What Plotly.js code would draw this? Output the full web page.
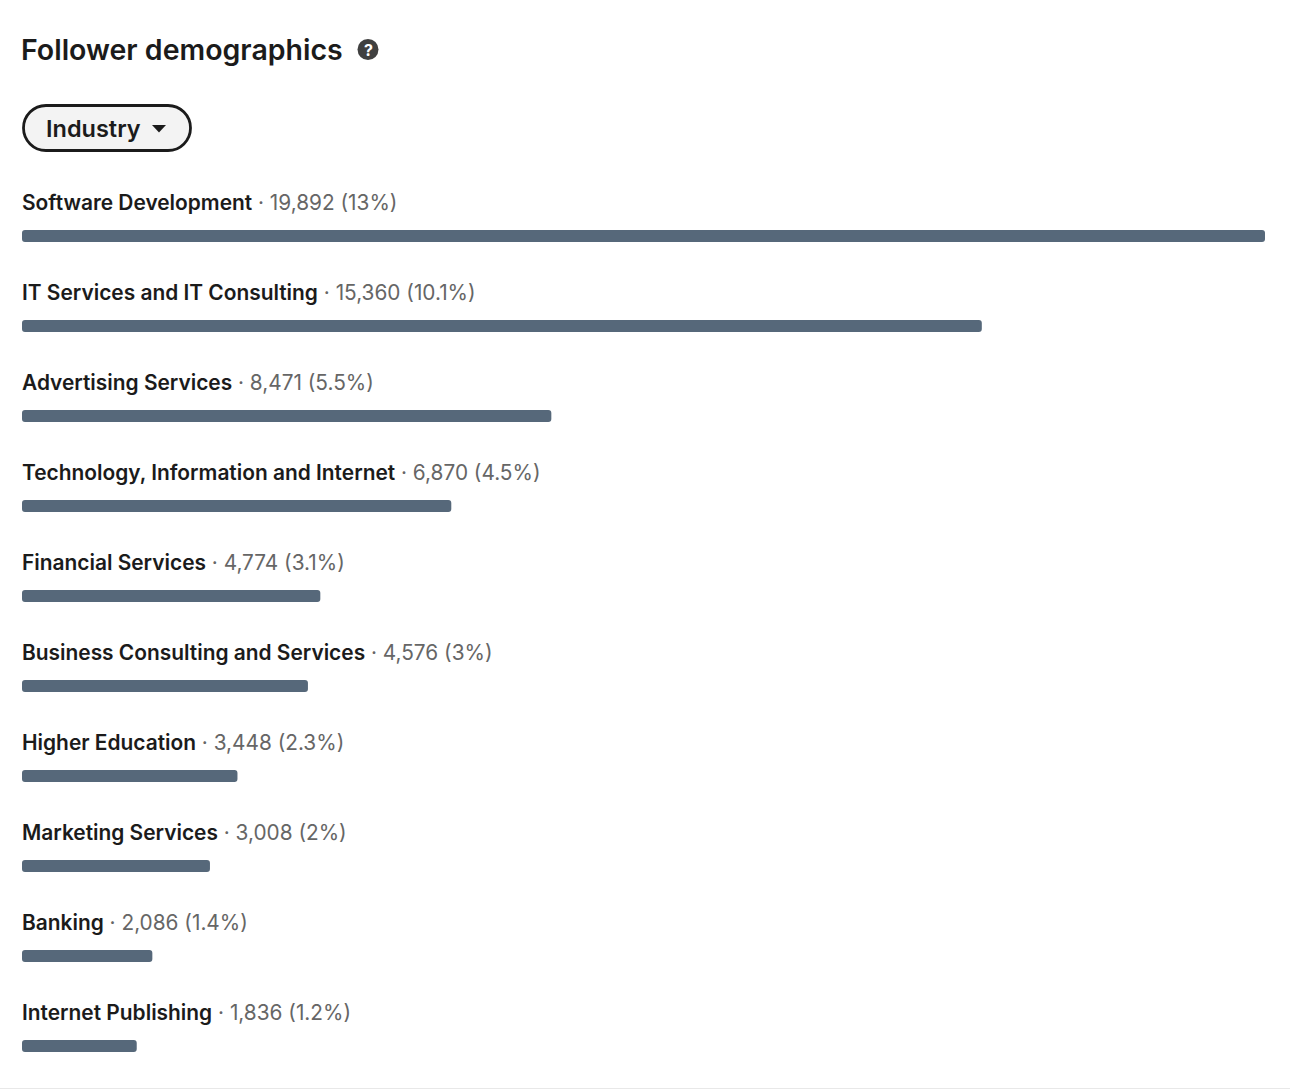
<!DOCTYPE html>
<html>
<head>
<meta charset="utf-8">
<script src="https://cdn.plot.ly/plotly-3.0.1.min.js"></script>
<style>html,body{margin:0;padding:0;background:#fff;overflow:hidden}</style>
</head>
<body>
<div id="chart" style="width:1290px;height:1092px"></div>
<script>
const categories = ["Software Development","IT Services and IT Consulting","Advertising Services","Technology, Information and Internet","Financial Services","Business Consulting and Services","Higher Education","Marketing Services","Banking","Internet Publishing"];
const followers = [19892,15360,8471,6870,4774,4576,3448,3008,2086,1836];
const shares = ["13%","10.1%","5.5%","4.5%","3.1%","3%","2.3%","2%","1.4%","1.2%"];
const chartTitle = "Follower demographics";
const dropdownLabel = "Industry";
const FONT = "Inter, 'Liberation Sans', sans-serif";
const W = 1290, H = 1092, L = 22, R = 25, T = 191, B = 1;
const fx = px => px / W;
const px = x => (x - L) / (W - L - R);
const py = y => 1 - (y - T) / (H - T - B);

function roundedPill(x0, y0, x1, y1) {
  const r = (y1 - y0) / 2, k = r * 0.4477;
  const X = v => px(v), Y = v => py(v);
  return `M ${X(x0 + r)} ${Y(y0)} L ${X(x1 - r)} ${Y(y0)} ` +
    `C ${X(x1 - k)} ${Y(y0)} ${X(x1)} ${Y(y0 + k)} ${X(x1)} ${Y(y0 + r)} ` +
    `C ${X(x1)} ${Y(y1 - k)} ${X(x1 - k)} ${Y(y1)} ${X(x1 - r)} ${Y(y1)} ` +
    `L ${X(x0 + r)} ${Y(y1)} ` +
    `C ${X(x0 + k)} ${Y(y1)} ${X(x0)} ${Y(y1 - k)} ${X(x0)} ${Y(y0 + r)} ` +
    `C ${X(x0)} ${Y(y0 + k)} ${X(x0 + k)} ${Y(y0)} ${X(x0 + r)} ${Y(y0)} Z`;
}

// white masks that round the left end of every bar (barcornerradius only rounds the far end)
function cornerMask(i) {
  const c = T + 45 + 90 * i, t = c - 6, b = c + 6, r = 3;
  const path =
    `M ${px(L)} ${py(t)} L ${px(L + r)} ${py(t)} Q ${px(L)} ${py(t)} ${px(L)} ${py(t + r)} Z ` +
    `M ${px(L)} ${py(b)} L ${px(L + r)} ${py(b)} Q ${px(L)} ${py(b)} ${px(L)} ${py(b - r)} Z`;
  return {type: "path", xref: "paper", yref: "paper", path, fillcolor: "#ffffff", line: {width: 0}};
}

const labels = categories.map((c, i) => ({
  xref: "paper", x: 0, xanchor: "left", xshift: -2,
  yref: "y", y: c, yanchor: "middle", yshift: 33.5,
  showarrow: false, align: "left",
  font: {family: FONT, size: 20.8, color: "#666666"},
  text: `<span style="font-weight:600;font-size:20.9px;color:#1b1b1b">${c}</span> · ${followers[i].toLocaleString("en-US")} (${shares[i]})`
}));

const data = [{
  type: "bar", orientation: "h",
  y: categories, x: followers,
  marker: {color: "#56687a", line: {width: 0}},
  hoverinfo: "skip"
}];

const layout = {
  width: W, height: H,
  margin: {l: L, r: R, t: T, b: B, pad: 0},
  paper_bgcolor: "#ffffff", plot_bgcolor: "#ffffff",
  showlegend: false,
  bargap: 1 - 12 / 90,
  barcornerradius: 3,
  title: {
    text: `<span style="font-weight:600">${chartTitle}</span>`,
    xref: "container", yref: "container",
    x: fx(21), xanchor: "left", y: 1 - 50 / H, yanchor: "middle",
    font: {family: FONT, size: 28.5, color: "#1b1b1b"}
  },
  xaxis: {range: [0, followers[0]], visible: false, fixedrange: true},
  yaxis: {type: "category", categoryorder: "array", categoryarray: categories, range: [categories.length - 0.5, -0.5], visible: false, fixedrange: true},
  shapes: [
    {type: "path", xref: "paper", yref: "paper", path: roundedPill(23.5, 105.5, 190.5, 150.5),
     fillcolor: "#f3f3f3", line: {color: "#1b1b1b", width: 2.8}},
    {type: "path", xref: "paper", yref: "paper",
     path: `M ${px(152)} ${py(125)} L ${px(166)} ${py(125)} L ${px(159)} ${py(132.5)} Z`,
     fillcolor: "#1b1b1b", line: {width: 0}},
    {type: "circle", xref: "paper", yref: "paper",
     x0: px(357.5), x1: px(378.5), y0: py(39), y1: py(60),
     fillcolor: "#404040", line: {width: 0}},
    {type: "line", xref: "paper", yref: "paper",
     x0: px(0), x1: px(W), y0: py(1088.5), y1: py(1088.5),
     line: {color: "#e8e8e8", width: 1}}
  ].concat(categories.map((_, i) => cornerMask(i))),
  annotations: labels.concat([
    {xref: "paper", yref: "paper", x: px(44), xanchor: "left", y: py(129), yanchor: "middle",
     showarrow: false, text: `<span style="font-weight:600">${dropdownLabel}</span>`,
     font: {family: FONT, size: 23.5, color: "#1b1b1b"}},
    {xref: "paper", yref: "paper", x: px(368), xanchor: "center", y: py(49.5), yanchor: "middle",
     showarrow: false, text: "<b>?</b>", font: {family: FONT, size: 16, color: "#ffffff"}}
  ])
};

Plotly.newPlot("chart", data, layout, {displayModeBar: false, staticPlot: true});
</script>
</body>
</html>
